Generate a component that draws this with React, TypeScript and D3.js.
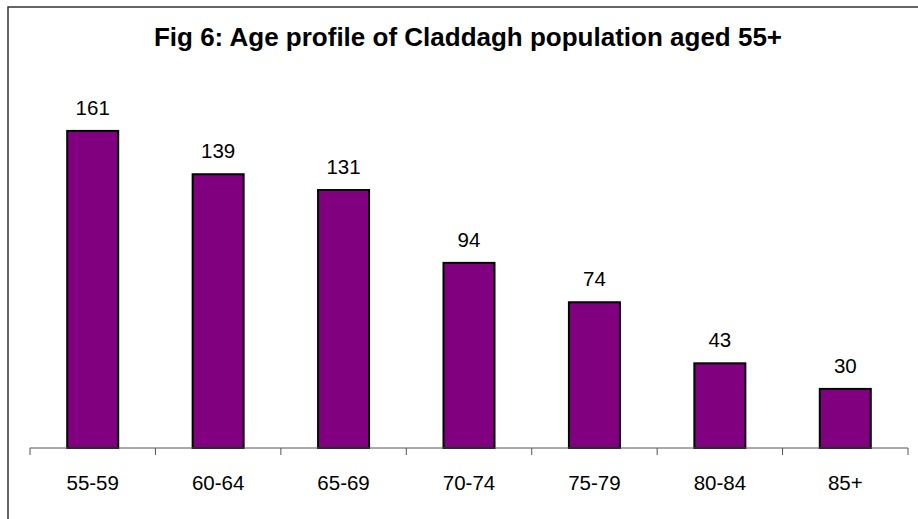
import React from "react";
import * as d3 from "d3";

const categories = ["55-59", "60-64", "65-69", "70-74", "75-79", "80-84", "85+"];
const values = [161, 139, 131, 94, 74, 43, 30];
const title = "Fig 6: Age profile of Claddagh population aged 55+";

export default function App() {
  const W = 918, H = 519;
  const x0 = 30, x1 = 908, yBase = 448;
  const x = d3.scaleBand<string>().domain(categories).range([x0, x1]).paddingInner(0).paddingOuter(0);
  const y = d3.scaleLinear().domain([0, 180]).range([yBase, yBase - 354.5]);
  const barW = 51;
  const font = "Arial, 'Liberation Sans', sans-serif";
  const ticks = d3.range(categories.length + 1).map(i => x0 + i * x.step());
  return (
    <svg width={W} height={H} style={{ position: "absolute", left: 0, top: 0 }}>
      <rect x={0} y={0} width={W} height={H} fill="#fff" />
      <rect x={8} y={7} width={W + 20} height={H + 20} fill="none" stroke="#333" strokeWidth={1.5} />
      <text x={468} y={46} textAnchor="middle" fontFamily={font} fontWeight="bold" fontSize={26} fill="#000">{title}</text>
      {categories.map((c, i) => {
        const cx = (x(c) as number) + x.bandwidth() / 2;
        return (
          <g key={c}>
            <rect x={cx - barW / 2} y={y(values[i])} width={barW} height={yBase - y(values[i])} fill="#800080" stroke="#000" strokeWidth={2} />
            <text x={cx} y={y(values[i]) - 16} textAnchor="middle" fontFamily={font} fontSize={20.5} fill="#000">{values[i]}</text>
            <text x={cx} y={490} textAnchor="middle" fontFamily={font} fontSize={20.5} fill="#000">{c}</text>
          </g>
        );
      })}
      <line x1={x0} x2={x1} y1={yBase} y2={yBase} stroke="#555" strokeWidth={1} />
      {ticks.map((t, i) => (
        <line key={i} x1={t} x2={t} y1={yBase} y2={yBase + 7} stroke="#555" strokeWidth={1} />
      ))}
    </svg>
  );
}
